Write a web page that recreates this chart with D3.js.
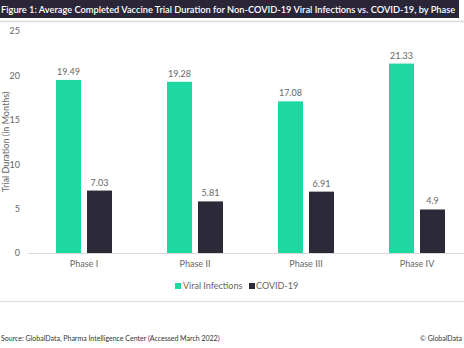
<!DOCTYPE html>
<html><head><meta charset="utf-8">
<script src="https://cdn.jsdelivr.net/npm/d3@7"></script>
<style>html,body{margin:0;padding:0;background:#fff;overflow:hidden}svg{display:block}</style>
</head><body>
<script>
const categories = ["Phase I", "Phase II", "Phase III", "Phase IV"];
const seriesNames = ["Viral Infections", "COVID-19"];
const viralValues = [19.49, 19.28, 17.08, 21.33];
const covidValues = [7.03, 5.81, 6.91, 4.9];
const yTicks = [0, 5, 10, 15, 20, 25];
const colors = ["#1dd9a1", "#2c2939"];
const titleText = "Figure 1: Average Completed Vaccine Trial Duration for Non-COVID-19 Viral Infections vs. COVID-19, by Phase";
const sourceText = "Source: GlobalData, Pharma Intelligence Center (Accessed March 2022)";
const copyrightText = "© GlobalData";
const yTitle = "Trial Duration (in Months)";

const W = 464, H = 348;
const font = "Lato, 'Open Sans', sans-serif";
const svg = d3.select("body").append("svg").attr("width", W).attr("height", H);

// title bar
svg.append("rect").attr("x", 0).attr("y", 0).attr("width", 459).attr("height", 18).attr("fill", "#2b2637");
const title = svg.append("text").attr("x", 1).attr("y", 12.6).attr("fill", "#fff")
  .attr("font-family", font).attr("font-weight", 600).attr("font-size", 10).text(titleText);
{
  const full = title.node().getComputedTextLength();
  title.attr("font-size", 10 * 455 / full);
}
svg.append("line").attr("x1", 0).attr("x2", W).attr("y1", 21.5).attr("y2", 21.5)
  .attr("stroke", "#d9d9d9").attr("stroke-width", 1.5);

// scales
const y = d3.scaleLinear().domain([0, 25]).range([253, 31]);
const x0 = d3.scaleBand().domain(categories).range([28.5, 472.5]).padding(0);
const x1 = d3.scaleBand().domain(seriesNames).range([0, 56]).paddingInner(6 / 31);

const data = categories.map((c, i) => ({cat: c, vals: [viralValues[i], covidValues[i]]}));

// y axis labels
const yAxis = d3.axisLeft(y).tickValues(yTicks).tickSize(0).tickPadding(0);
const gy = svg.append("g").attr("transform", "translate(20,0)").call(yAxis);
gy.select(".domain").remove();
gy.selectAll("text").attr("font-family", font).attr("font-size", 9).attr("fill", "#666");

// x axis
const xAxis = d3.axisBottom(x0).tickSize(0).tickPadding(8);
const gx = svg.append("g").attr("transform", "translate(0,253)").call(xAxis);
gx.select(".domain").remove();
gx.selectAll("text").attr("font-family", font).attr("font-size", 9).attr("fill", "#666");
svg.append("line").attr("x1", 28).attr("x2", W).attr("y1", 253.5).attr("y2", 253.5)
  .attr("stroke", "#d9d9d9").attr("stroke-width", 1);

// bars
const groups = svg.append("g").selectAll("g").data(data).join("g")
  .attr("transform", d => `translate(${x0(d.cat) + x0.bandwidth() / 2 - 28},0)`);
groups.selectAll("rect").data(d => d.vals.map((v, j) => ({v, s: seriesNames[j], j})))
  .join("rect")
  .attr("x", d => x1(d.s)).attr("width", x1.bandwidth())
  .attr("y", d => y(d.v)).attr("height", d => y(0) - y(d.v))
  .attr("fill", d => colors[d.j]);
groups.selectAll("text.val").data(d => d.vals.map((v, j) => ({v, s: seriesNames[j]})))
  .join("text").attr("class", "val")
  .attr("x", d => x1(d.s) + x1.bandwidth() / 2).attr("y", d => y(d.v) - 5)
  .attr("text-anchor", "middle").attr("font-family", font).attr("font-size", 9).attr("fill", "#666")
  .text(d => d.v);

// y title
svg.append("text").attr("transform", "translate(8.5,142) rotate(-90)")
  .attr("text-anchor", "middle").attr("font-family", font).attr("font-size", 9).attr("fill", "#666")
  .text(yTitle);

// legend
const legendItems = [{name: seriesNames[0], x: 175}, {name: seriesNames[1], x: 249}];
const lg = svg.append("g").selectAll("g").data(legendItems).join("g")
  .attr("transform", d => `translate(${d.x},283)`);
lg.append("rect").attr("width", 6).attr("height", 6).attr("fill", (d, i) => colors[i]);
lg.append("text").attr("x", (d, i) => i === 0 ? 8 : 7).attr("y", 6).attr("font-family", font)
  .attr("font-size", 9).attr("fill", "#666").text(d => d.name);

svg.append("line").attr("x1", 0).attr("x2", W).attr("y1", 301.5).attr("y2", 301.5)
  .attr("stroke", "#e3e3e3").attr("stroke-width", 1.5);

// source
svg.append("text").attr("x", 1).attr("y", 340.5).attr("font-family", font).attr("font-size", 7).attr("fill", "#333").text(sourceText);
svg.append("text").attr("x", 462).attr("y", 340.5).attr("text-anchor", "end").attr("font-family", font).attr("font-size", 7).attr("fill", "#333").text(copyrightText);
</script>
</body></html>
